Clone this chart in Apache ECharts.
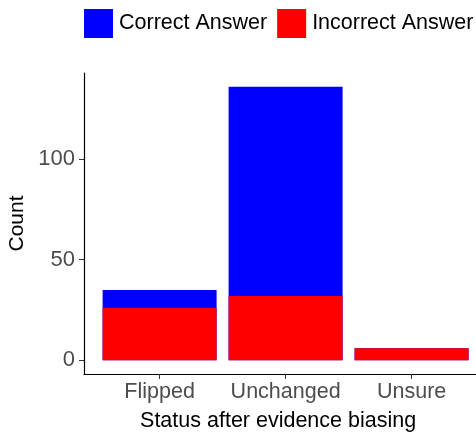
<!DOCTYPE html>
<html>
<head>
<meta charset="utf-8">
<script src="https://cdn.jsdelivr.net/npm/echarts@6/dist/echarts.min.js"></script>
<style>html,body{margin:0;padding:0;background:#fff}#c{width:476px;height:433px}</style>
</head>
<body>
<div id="c"></div>
<script>
const categories = ['Flipped', 'Unchanged', 'Unsure'];
const correctCounts = [9, 104, 0];
const incorrectCounts = [26, 32, 6];
const yTicks = [0, 50, 100];
const seriesNames = ['Correct Answer', 'Incorrect Answer'];

const FONT = 'Liberation Sans, Arial, Helvetica, sans-serif';
const positions = categories.map((c, i) => i + 1);
// stacked tops: correct answers sit on top of incorrect answers
const totals = incorrectCounts.map((v, i) => v + correctCounts[i]);

const chart = echarts.init(document.getElementById('c'), null, {renderer: 'canvas'});
chart.setOption({
  animation: false,
  backgroundColor: '#fff',
  textStyle: {fontFamily: FONT},
  legend: {
    data: seriesNames,
    left: 84, top: 9, padding: 0, width: 440,
    itemWidth: 29, itemHeight: 29, itemGap: 10,
    icon: 'rect',
    textStyle: {fontSize: 21.5, color: '#000', fontFamily: FONT, padding: [0, 0, 0, 1]}
  },
  grid: {left: 84, top: 73, width: 403.2, height: 301, outerBoundsMode: 'none', containLabel: false},
  xAxis: {
    type: 'value', min: 0.4, max: 3.6,
    name: 'Status after evidence biasing', nameLocation: 'middle', nameGap: 36,
    nameTextStyle: {fontSize: 21.5, color: '#000', fontFamily: FONT, padding: [0, 15, 0, 0]},
    axisLine: {onZero: false, lineStyle: {color: '#000', width: 1.2}},
    axisTick: {show: true, length: 5, customValues: positions, lineStyle: {color: '#333'}},
    axisLabel: {customValues: positions, margin: 7, fontSize: 21.5, color: '#4d4d4d', fontFamily: FONT,
      formatter: v => categories[Math.round(v) - 1] || ''},
    splitLine: {show: false}
  },
  yAxis: {
    type: 'value', min: -6.8, max: 142.8,
    name: 'Count', nameLocation: 'middle', nameGap: 55, nameRotate: 90,
    nameTextStyle: {fontSize: 21, color: '#000', fontFamily: FONT},
    axisLine: {show: true, onZero: false, lineStyle: {color: '#000', width: 1.2}},
    axisTick: {show: true, length: 5, customValues: yTicks, lineStyle: {color: '#333'}},
    axisLabel: {customValues: yTicks, margin: 9, fontSize: 22, color: '#4d4d4d', fontFamily: FONT},
    splitLine: {show: false}
  },
  series: [
    {
      name: seriesNames[0], type: 'bar', barWidth: 114, barGap: '-100%',
      itemStyle: {color: '#0000ff'},
      data: totals.map((v, i) => [positions[i], v])
    },
    {
      name: seriesNames[1], type: 'bar', barWidth: 114, barGap: '-100%',
      itemStyle: {color: '#ff0000'},
      data: incorrectCounts.map((v, i) => [positions[i], v])
    }
  ]
});
</script>
</body>
</html>
